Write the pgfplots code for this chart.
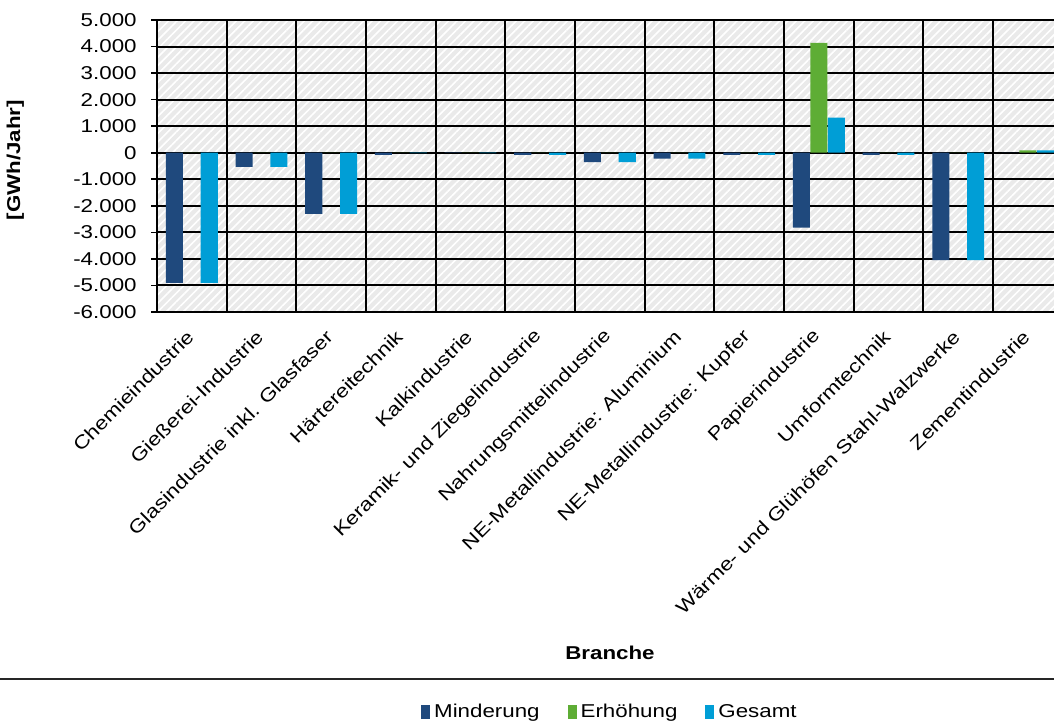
\documentclass[border=0pt]{standalone}
\usepackage{fontspec}
\setmainfont{Liberation Sans}[FakeStretch=1.2]
\usepackage{pgfplots}
\pgfplotsset{compat=1.18}
\usetikzlibrary{patterns.meta}
\definecolor{cMin}{RGB}{31,73,125}
\definecolor{cErh}{RGB}{94,173,53}
\definecolor{cGes}{RGB}{0,158,214}
\definecolor{bgc}{RGB}{234,234,234}
\begin{document}
\fontsize{9.3}{11}\selectfont
\begin{tikzpicture}
\useasboundingbox (0,0) rectangle (527pt,362pt);
\begin{axis}[
  at={(78.5pt,206pt)}, anchor=south west,
  scale only axis, width=448.5pt, height=146pt,
  xmin=-0.5, xmax=12.375, ymin=-6000, ymax=5000,
  axis x line=bottom, axis y line=left,
  axis line style={black, line width=1pt, -},
  ytick={-6000,-5000,...,5000},
  xtick={0,...,12},
  xticklabels={Chemieindustrie, Gießerei-Industrie, Glasindustrie inkl. Glasfaser, Härtereitechnik, Kalkindustrie, Keramik- und Ziegelindustrie, Nahrungsmittelindustrie, NE-Metallindustrie: Aluminium, NE-Metallindustrie: Kupfer, Papierindustrie, Umformtechnik, Wärme- und Glühöfen Stahl-Walzwerke, Zementindustrie},
  minor xtick={-0.5,0.5,...,12.5},
  xminorgrids=true, ymajorgrids=true, xmajorgrids=false,
  grid style={black, line width=1pt},
  minor grid style={black, line width=1pt},
  x tick style={draw=none},
  minor x tick style={draw=none},
  y tick style={black, line width=0.8pt},
  tick align=outside, major tick length=3pt,
  scaled y ticks=false,
  /pgf/number format/.cd, fixed, 1000 sep={.}, assume math mode=true, /pgfplots/.cd,
  xticklabel style={rotate=45, anchor=east, inner sep=1pt},
  xticklabel shift=7pt,
  yticklabel style={inner sep=1pt, xshift=-6pt},
  axis background/.style={fill=bgc, postaction={pattern={Lines[angle=45,distance=3pt,line width=0.8pt]}, pattern color=white}},
  xlabel={\textbf{Branche}},
  xlabel style={at={(axis description cs:0.505,-1.168)}, anchor=center},
  ylabel={\textbf{[GWh/Jahr]}},
  ylabel style={at={(axis description cs:-0.158,0.52)}, anchor=center},
  legend style={at={(axis description cs:0.506,-1.37)}, anchor=center, draw=none, fill=none, legend columns=3,
    /tikz/every even column/.append style={column sep=12pt}},
  legend image code/.code={\fill[#1] (0pt,-3.5pt) rectangle (4.5pt,3.5pt);},
]
\addplot[ybar, bar width=0.245, bar shift=-0.25, fill=cMin, draw=none] coordinates {
 (0,-4900) (1,-530) (2,-2300) (3,-80) (4,-8) (5,-80) (6,-350) (7,-220) (8,-80) (9,-2820) (10,-80) (11,-4050) (12,0)};
\addlegendentry{Minderung}
\addplot[ybar, bar width=0.245, bar shift=0, fill=cErh, draw=none] coordinates {
 (0,0) (1,0) (2,0) (3,0) (4,0) (5,0) (6,0) (7,0) (8,0) (9,4140) (10,0) (11,0) (12,90)};
\addlegendentry{Erhöhung}
\addplot[ybar, bar width=0.245, bar shift=0.25, fill=cGes, draw=none] coordinates {
 (0,-4900) (1,-530) (2,-2300) (3,-15) (4,-15) (5,-80) (6,-350) (7,-220) (8,-80) (9,1320) (10,-80) (11,-4050) (12,90)};
\addlegendentry{Gesamt}
\end{axis}
\draw[black!85, line width=1pt] (0,22.5pt) -- (527pt,22.5pt);
\end{tikzpicture}
\end{document}
